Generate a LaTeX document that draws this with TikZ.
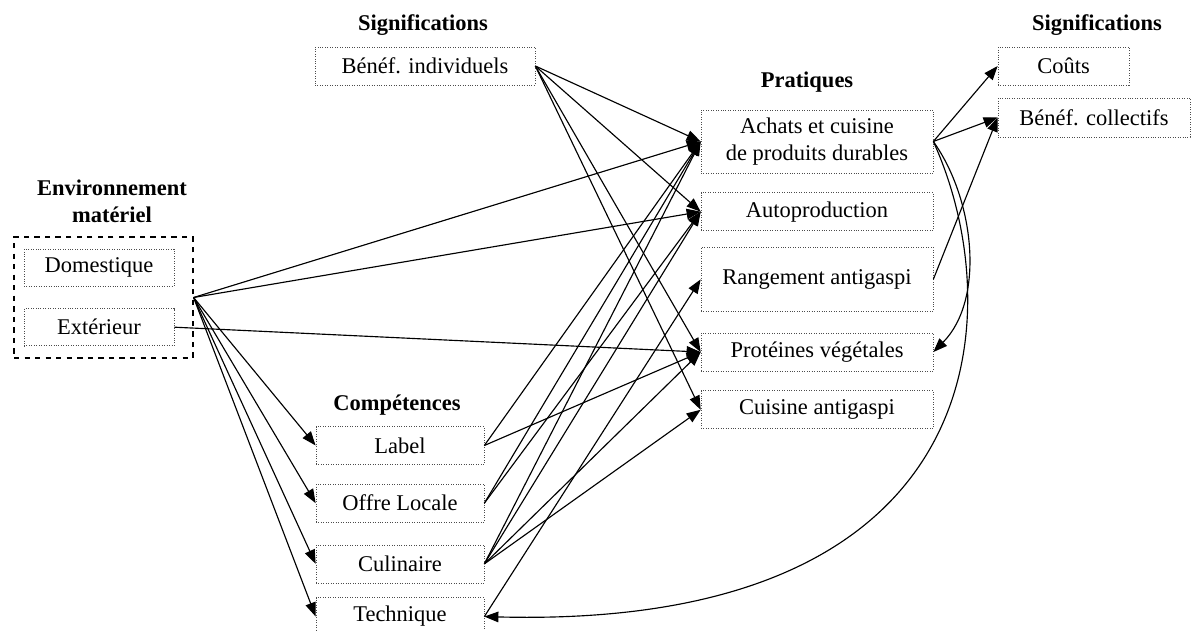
\documentclass[tikz,border=0pt]{standalone}
\usepackage{fontspec}
\setmainfont{Liberation Serif}
\usepackage{tikz}
\usetikzlibrary{arrows.meta,positioning}
\tikzstyle{item} = [rectangle, draw=black!70, densely dotted, text centered, align=center, inner sep=2pt, minimum height=0.76cm]
\tikzstyle{pratique} = [item, minimum width=4.64cm]
\tikzstyle{competence} = [item, minimum width=3.36cm]
\tikzstyle{materiel} = [item, minimum width=3cm, minimum height=0.74cm]
\tikzstyle{heading} = [font=\fontsize{12.8}{15.5}\selectfont\bfseries, align=center]
\tikzstyle{link} = [->, >={Triangle[length=8pt,width=6pt]}, line width=0.65pt]

\begin{document}
\begin{tikzpicture}[x=0.02cm, y=-0.02cm, font=\fontsize{12.8}{15.5}\selectfont, node distance=0.38cm]
\useasboundingbox (0,0) rectangle (1191,631);
% Environnement materiel
\node[heading] (envtitle) at (112,201) {Environnement\\matériel};
\node[draw, dashed, line width=0.7pt, minimum width=3.58cm, minimum height=2.42cm] (env) at (103.5,297.5) {};
\node[materiel] (dom) at (99,267.5) {Domestique};
\node[materiel, below=0.44cm of dom] (ext) {Extérieur};

% Significations (individuelles)
\node[heading] (sigind) at (423,25) {Significations};
\node[item, minimum width=4.4cm] (benind) at (425,66) {Bénéf. individuels};

% Pratiques
\node[heading] (pratitle) at (807,82) {Pratiques};
\node[pratique, minimum height=1.26cm] (achats) at (817,141.5) {Achats et cuisine\\de produits durables};
\node[pratique, below=of achats] (autoprod) {Autoproduction};
\node[pratique, minimum height=1.28cm, below=0.32cm of autoprod] (rangement) {Rangement antigaspi};
\node[pratique, below=0.42cm of rangement] (proteines) {Protéines végétales};
\node[pratique, below=of proteines] (cuisine) {Cuisine antigaspi};

% Significations (collectives)
\node[heading] (sigcoll) at (1097,25) {Significations};
\node[item, minimum width=2.62cm] (couts) at (1063.5,66) {Coûts};
\node[item, minimum width=3.84cm, minimum height=0.78cm] (bencoll) at (1094,117.5) {Bénéf. collectifs};

% Competences
\node[heading] (comptitle) at (397,405) {Compétences};
\node[competence] (label) at (400,445.5) {Label};
\node[competence, below=of label] (offre) {Offre Locale};
\node[competence, below=0.44cm of offre] (culin) {Culinaire};
\node[competence, below=0.28cm of culin] (techn) {Technique};

% materiel
\draw[link] (env.east) -- (achats.west);
\draw[link] (env.east) -- (autoprod.west);
\draw[link] (env.east) -- (label.west);
\draw[link] (env.east) -- (offre.west);
\draw[link] (env.east) -- (culin.west);
\draw[link] (env.east) -- (techn.west);
\draw[link] (ext.east) -- (proteines.west);

% significations
\draw[link] (benind.east) -- (achats.west);
\draw[link] (benind.east) -- (autoprod.west);
\draw[link] (benind.east) -- (proteines.west);
\draw[link] (benind.east) -- (cuisine.west);

% competences
\draw[link] (label.east) -- (achats.west);
\draw[link] (label.east) -- (proteines.west);
\draw[link] (offre.east) -- (achats.west);
\draw[link] (offre.east) -- (autoprod.west);
\draw[link] (culin.east) -- (achats.west);
\draw[link] (culin.east) -- (autoprod.west);
\draw[link] (culin.east) -- (proteines.west);
\draw[link] (culin.east) -- (cuisine.west);
\draw[link] (techn.east) -- (rangement.west);

% pratiques
\draw[link] (achats.east) -- (couts.west);
\draw[link] (achats.east) -- (bencoll.west);
\draw[link] (rangement.east) -- (bencoll.west);
\draw[link] (achats.east) .. controls (975,200) and (985,300) .. (proteines.east);
\draw[link] (achats.east) .. controls (1010,310) and (995,630) .. (techn.east);
\end{tikzpicture}
\end{document}
